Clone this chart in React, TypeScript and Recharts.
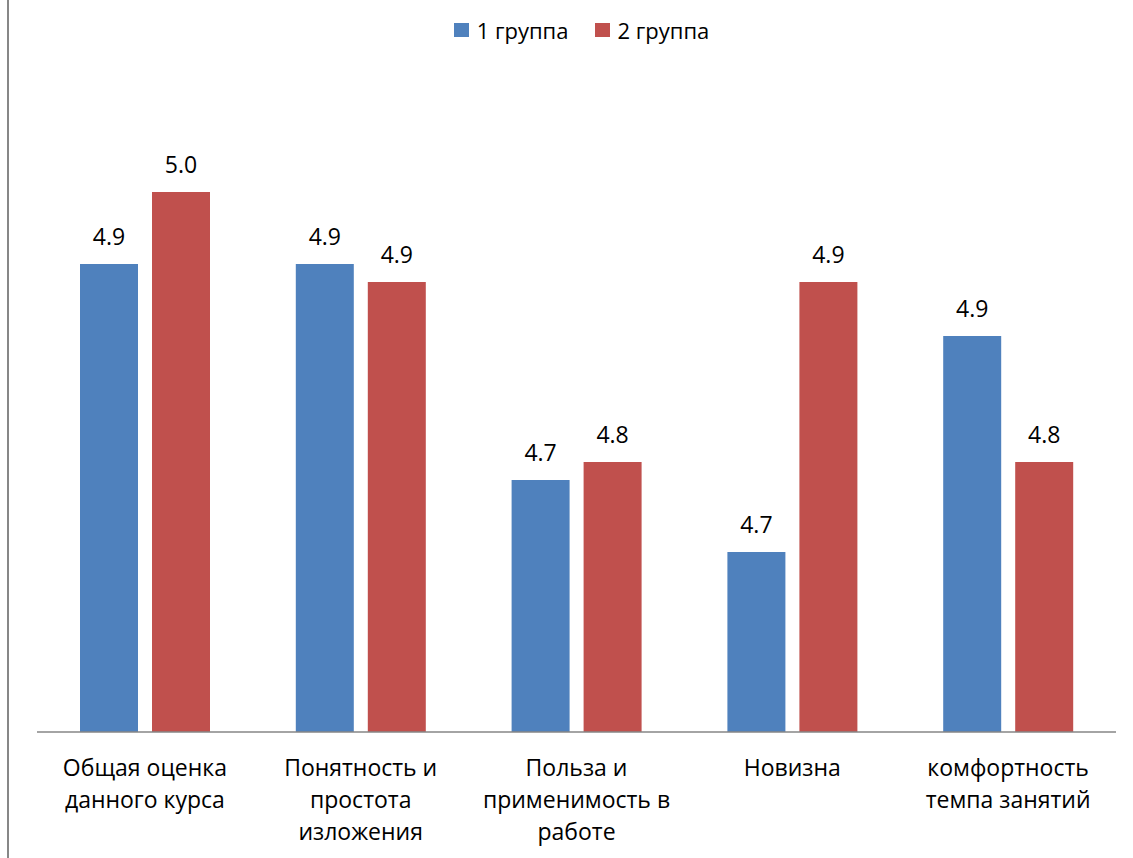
import React from 'react';
import { BarChart, Bar, XAxis, YAxis, Legend, LabelList } from 'recharts';

const categories = [
  'Общая оценка\nданного курса',
  'Понятность и\nпростота\nизложения',
  'Польза и\nприменимость в\nработе',
  'Новизна',
  'комфортность\nтемпа занятий',
];
const group1 = [4.911, 4.911, 4.749, 4.695, 4.857];
const group2 = [4.965, 4.8975, 4.7625, 4.8975, 4.7625];
const seriesNames = ['1 группа', '2 группа'];
const colors = ['#4F81BD', '#C0504D'];
const yDomain: [number, number] = [4.56, 5.034];

const data = categories.map((c, i) => ({ category: c, g1: group1[i], g2: group2[i] }));

const FONT = '"Open Sans", sans-serif';

const CategoryTick = (props: any) => {
  const { x, y, payload } = props;
  const lines = String(payload.value).split('\n');
  return (
    <g>
      {lines.map((ln: string, i: number) => (
        <text
          key={i}
          x={x}
          y={y + 44 + i * 32}
          textAnchor="middle"
          fontFamily={FONT}
          fontSize={23}
          fill="#000"
        >
          {ln}
        </text>
      ))}
    </g>
  );
};

const ValueLabel = (props: any) => {
  const { x, y, width, value } = props;
  return (
    <text
      x={x + width / 2}
      y={y - 19}
      textAnchor="middle"
      fontFamily={FONT}
      fontSize={23}
      fill="#000"
    >
      {Number(value).toFixed(1)}
    </text>
  );
};

const renderLegend = () => (
  <div
    style={{
      height: 86,
      display: 'flex',
      justifyContent: 'center',
      alignItems: 'flex-start',
      paddingLeft: 10,
      fontFamily: FONT,
      fontSize: 22,
      color: '#000',
    }}
  >
    {seriesNames.map((name, i) => (
      <div
        key={name}
        style={{ display: 'flex', alignItems: 'center', height: 32, marginLeft: i === 0 ? 0 : 26 }}
      >
        <div style={{ width: 15, height: 14, background: colors[i], marginRight: 8 }} />
        <span style={{ lineHeight: '32px' }}>{name}</span>
      </div>
    ))}
  </div>
);

export default function App() {
  return (
    <div style={{ position: 'absolute', left: 0, top: 0, width: 1133, height: 858, background: '#fff' }}>
      <div style={{ position: 'absolute', left: 7, top: 0, width: 2, height: 858, background: '#878787' }} />
      <BarChart
        width={1133}
        height={858}
        data={data}
        margin={{ top: 14, right: 17, bottom: 6, left: 37 }}
        barSize={58}
        barGap={14}
      >
        <Legend verticalAlign="top" content={renderLegend} />
        <XAxis
          dataKey="category"
          height={120}
          tickLine={false}
          tickSize={0}
          tickMargin={0}
          interval={0}
          axisLine={{ stroke: '#868686', strokeWidth: 1.5 }}
          tick={<CategoryTick />}
        />
        <YAxis hide domain={yDomain} />
        <Bar dataKey="g1" name={seriesNames[0]} fill={colors[0]} isAnimationActive={false}>
          <LabelList dataKey="g1" content={<ValueLabel />} />
        </Bar>
        <Bar dataKey="g2" name={seriesNames[1]} fill={colors[1]} isAnimationActive={false}>
          <LabelList dataKey="g2" content={<ValueLabel />} />
        </Bar>
      </BarChart>
    </div>
  );
}
